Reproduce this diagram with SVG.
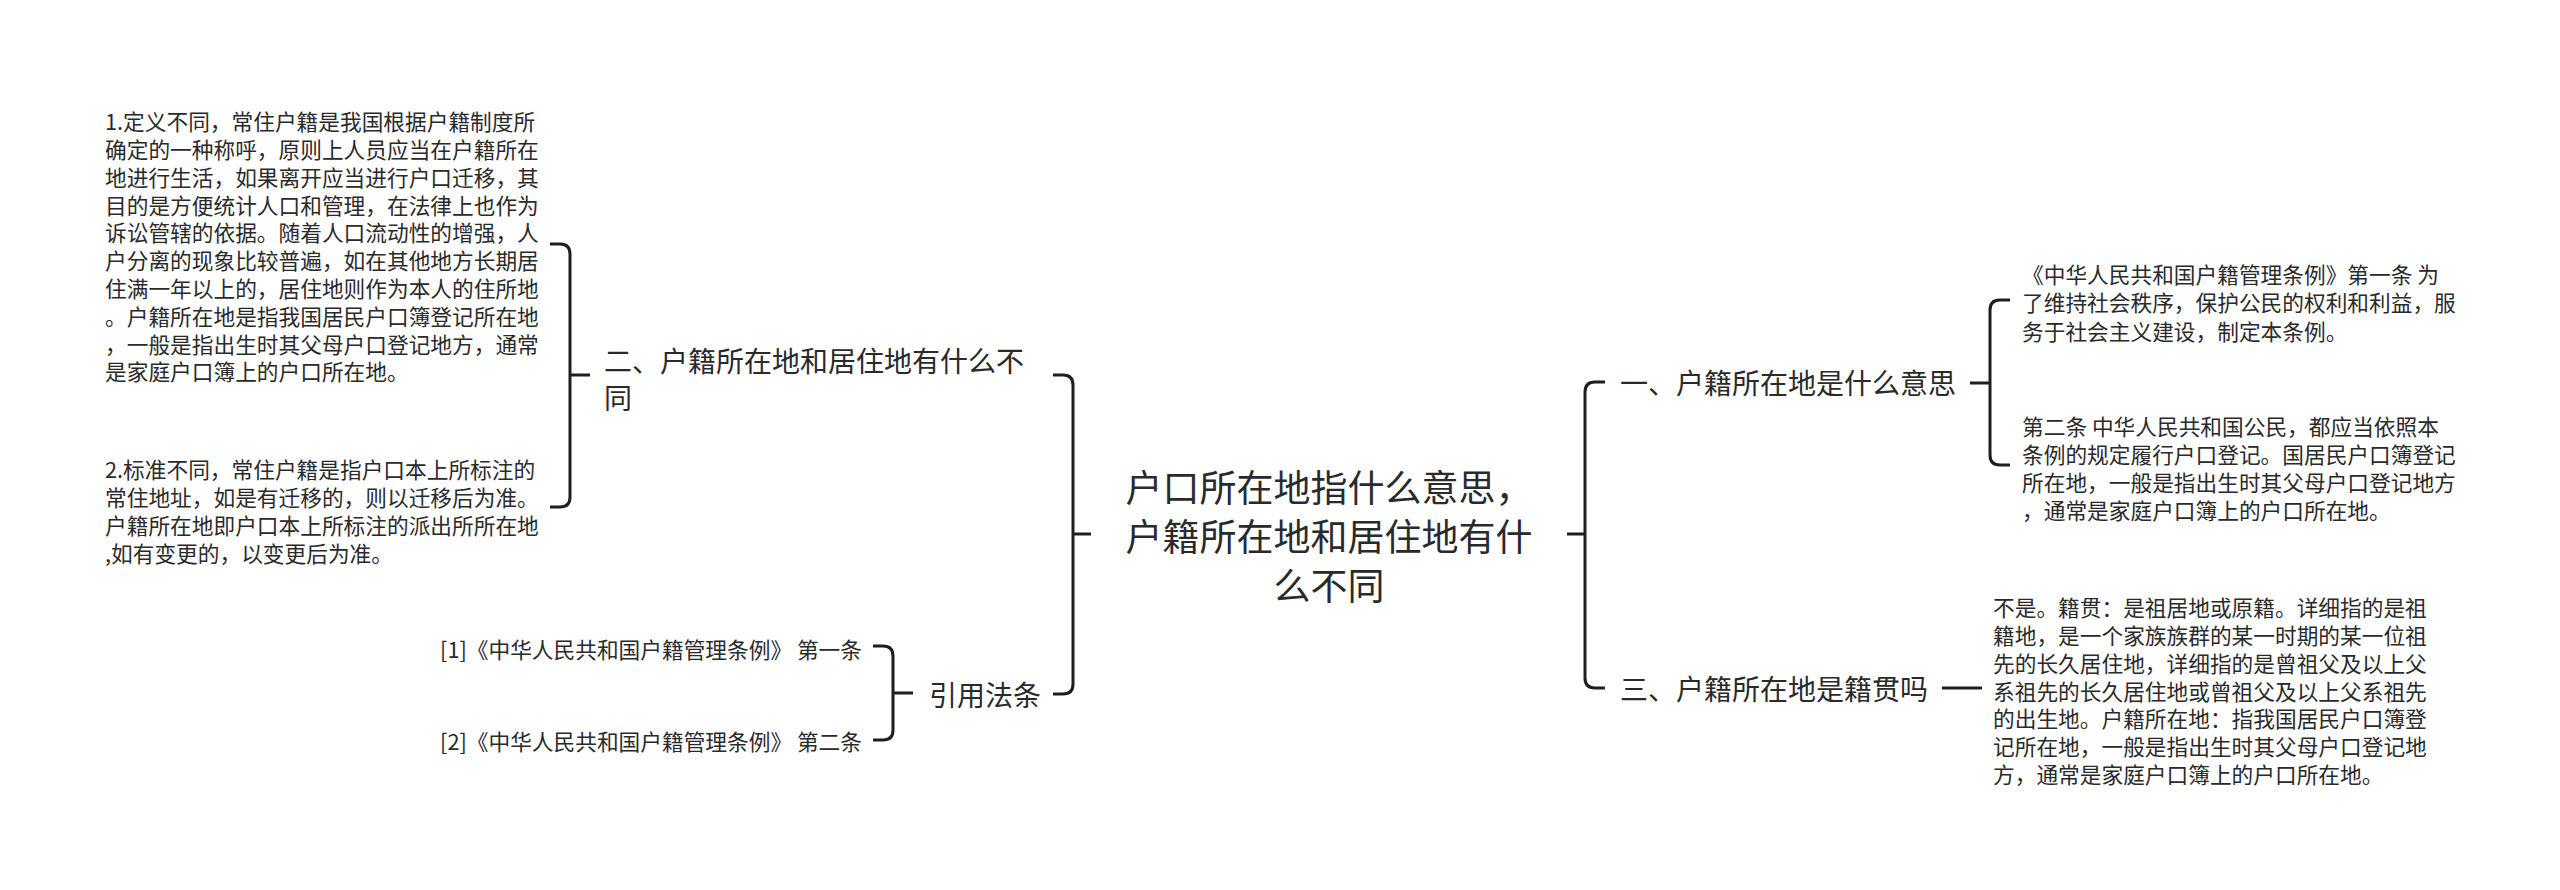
<svg xmlns="http://www.w3.org/2000/svg" width="2560" height="890" viewBox="0 0 2560 890">
<style>
text{font-family:"Noto Sans CJK SC","Noto Sans",sans-serif;fill:#2a2a2a;dominant-baseline:central}
.root{font-size:37px}
.main{font-size:28px}
.leaf{font-size:21.7px}
.cite{font-size:21.7px}
.c{fill:none;stroke:#1e1e1e;stroke-width:3}
</style>
<rect width="2560" height="890" fill="#ffffff"/>
<g id="connectors">
<path class="c" d="M1091 534 H1073"/>
<path class="c" d="M1053 375 H1063 Q1073 375 1073 385 V684 Q1073 694 1063 694 H1053"/>
<path class="c" d="M590 375 H570"/>
<path class="c" d="M550 244 H560 Q570 244 570 254 V497 Q570 507 560 507 H550"/>
<path class="c" d="M913 693 H893"/>
<path class="c" d="M873 646 H883 Q893 646 893 656 V730 Q893 740 883 740 H873"/>
<path class="c" d="M1567 534 H1585"/>
<path class="c" d="M1605 382 H1595 Q1585 382 1585 392 V678 Q1585 688 1595 688 H1605"/>
<path class="c" d="M1970 383 H1990"/>
<path class="c" d="M2010 300 H2000 Q1990 300 1990 310 V455 Q1990 465 2000 465 H2010"/>
<path class="c" d="M1942 688 H1982"/>
</g>
<g id="root">
<text class="root" x="1329" y="486" text-anchor="middle">户口所在地指什么意思，</text>
<text class="root" x="1329" y="535" text-anchor="middle">户籍所在地和居住地有什</text>
<text class="root" x="1329" y="584" text-anchor="middle">么不同</text>
</g>
<g id="node-2">
<text class="main" x="604" y="360">二、户籍所在地和居住地有什么不</text>
<text class="main" x="604" y="397">同</text>
</g>
<g id="node-2-1">
<text class="leaf" x="105" y="120.7">1.定义不同，常住户籍是我国根据户籍制度所</text>
<text class="leaf" x="105" y="148.5">确定的一种称呼，原则上人员应当在户籍所在</text>
<text class="leaf" x="105" y="176.3">地进行生活，如果离开应当进行户口迁移，其</text>
<text class="leaf" x="105" y="204.1">目的是方便统计人口和管理，在法律上也作为</text>
<text class="leaf" x="105" y="231.9">诉讼管辖的依据。随着人口流动性的增强，人</text>
<text class="leaf" x="105" y="259.7">户分离的现象比较普遍，如在其他地方长期居</text>
<text class="leaf" x="105" y="287.5">住满一年以上的，居住地则作为本人的住所地</text>
<text class="leaf" x="105" y="315.3">。户籍所在地是指我国居民户口簿登记所在地</text>
<text class="leaf" x="105" y="343.1">，一般是指出生时其父母户口登记地方，通常</text>
<text class="leaf" x="105" y="370.9">是家庭户口簿上的户口所在地。</text>
</g>
<g id="node-2-2">
<text class="leaf" x="105" y="468.3">2.标准不同，常住户籍是指户口本上所标注的</text>
<text class="leaf" x="105" y="496.4">常住地址，如是有迁移的，则以迁移后为准。</text>
<text class="leaf" x="105" y="524.5">户籍所在地即户口本上所标注的派出所所在地</text>
<text class="leaf" x="105" y="552.6">,如有变更的，以变更后为准。</text>
</g>
<g id="node-cite">
<text class="main" x="929" y="694">引用法条</text>
</g>
<g id="node-cite-1">
<text class="cite" x="862" y="648" text-anchor="end">[1]《中华人民共和国户籍管理条例》 第一条</text>
</g>
<g id="node-cite-2">
<text class="cite" x="862" y="740" text-anchor="end">[2]《中华人民共和国户籍管理条例》 第二条</text>
</g>
<g id="node-1">
<text class="main" x="1620" y="382">一、户籍所在地是什么意思</text>
</g>
<g id="node-1-1">
<text class="leaf" x="2022" y="273">《中华人民共和国户籍管理条例》第一条 为</text>
<text class="leaf" x="2022" y="301.5">了维持社会秩序，保护公民的权利和利益，服</text>
<text class="leaf" x="2022" y="330">务于社会主义建设，制定本条例。</text>
</g>
<g id="node-1-2">
<text class="leaf" x="2022" y="425">第二条 中华人民共和国公民，都应当依照本</text>
<text class="leaf" x="2022" y="453">条例的规定履行户口登记。国居民户口簿登记</text>
<text class="leaf" x="2022" y="481">所在地，一般是指出生时其父母户口登记地方</text>
<text class="leaf" x="2022" y="509">，通常是家庭户口簿上的户口所在地。</text>
</g>
<g id="node-3">
<text class="main" x="1620" y="688">三、户籍所在地是籍贯吗</text>
</g>
<g id="node-3-1">
<text class="leaf" x="1993" y="606.7">不是。籍贯：是祖居地或原籍。详细指的是祖</text>
<text class="leaf" x="1993" y="634.5">籍地，是一个家族族群的某一时期的某一位祖</text>
<text class="leaf" x="1993" y="662.3">先的长久居住地，详细指的是曾祖父及以上父</text>
<text class="leaf" x="1993" y="690.1">系祖先的长久居住地或曾祖父及以上父系祖先</text>
<text class="leaf" x="1993" y="717.9">的出生地。户籍所在地：指我国居民户口簿登</text>
<text class="leaf" x="1993" y="745.7">记所在地，一般是指出生时其父母户口登记地</text>
<text class="leaf" x="1993" y="773.5">方，通常是家庭户口簿上的户口所在地。</text>
</g>
</svg>
